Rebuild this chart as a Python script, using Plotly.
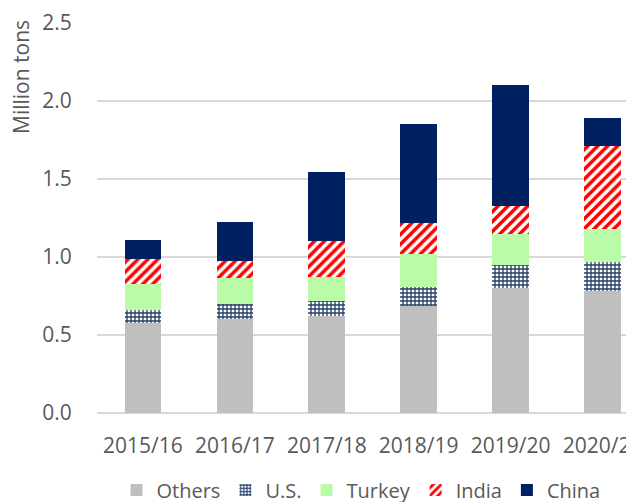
import plotly.graph_objects as go

seasons = ["2015/16", "2016/17", "2017/18", "2018/19", "2019/20", "2020/21"]
others = [0.58, 0.60, 0.62, 0.685, 0.80, 0.78]
us = [0.08, 0.10, 0.10, 0.125, 0.15, 0.185]
turkey = [0.165, 0.165, 0.155, 0.21, 0.20, 0.215]
india = [0.16, 0.11, 0.225, 0.20, 0.175, 0.53]
china = [0.125, 0.25, 0.445, 0.63, 0.775, 0.18]
y_ticks = [0.0, 0.5, 1.0, 1.5, 2.0, 2.5]
y_tick_text = ["0.0", "0.5", "1.0", "1.5", "2.0", "2.5"]

FONT = "Open Sans"
TXT = "#595959"
FS = 21

# page has an 8px body margin; figure is sized to fill the visible window
W, H = 626, 494
L, T, B = 89, 15, 89
PH = H - T - B  # plot height
PW = W - L      # plot width

fig = go.Figure()
fig.add_trace(go.Bar(name="Others", x=seasons, y=others,
                     marker=dict(color="#BFBFBF", line=dict(width=0))))
fig.add_trace(go.Bar(name="U.S.", x=seasons, y=us,
                     marker=dict(color="#FFFFFF", line=dict(width=0),
                                 pattern=dict(shape="+", fgcolor="#243F66", bgcolor="#FFFFFF",
                                              fillmode="replace", size=4, solidity=0.55))))
fig.add_trace(go.Bar(name="Turkey", x=seasons, y=turkey,
                     marker=dict(color="#B9FBA6", line=dict(width=0))))
fig.add_trace(go.Bar(name="India", x=seasons, y=india,
                     marker=dict(color="#FFFFFF", line=dict(width=0),
                                 pattern=dict(shape="/", fgcolor="#FF0000", bgcolor="#FFFFFF",
                                              fillmode="replace", size=7, solidity=0.5))))
fig.add_trace(go.Bar(name="China", x=seasons, y=china,
                     marker=dict(color="#002060", line=dict(width=0))))

fig.update_layout(
    barmode="stack",
    bargap=0.6,
    width=W, height=H,
    margin=dict(l=L, r=0, t=T, b=B, autoexpand=False),
    paper_bgcolor="white", plot_bgcolor="white",
    font=dict(family=FONT, size=FS, color=TXT),
    showlegend=True,
    legend=dict(orientation="h", x=(353 - L) / PW, xanchor="center",
                y=-(482 - (T + PH)) / PH, yanchor="middle",
                font=dict(family=FONT, size=20, color=TXT),
                itemwidth=30, traceorder="normal"),
    annotations=[dict(text="Million tons", x=(13 - L) / PW, y=(T + PH - 69) / PH,
                      xref="paper", yref="paper", xanchor="center", yanchor="middle",
                      showarrow=False, textangle=-90,
                      font=dict(family=FONT, size=FS, color=TXT))],
)
fig.update_xaxes(range=[-0.5, 5.342], showline=False,
                 ticks="outside", ticklen=14, tickcolor="rgba(0,0,0,0)",
                 tickfont=dict(family=FONT, size=FS, color=TXT), showgrid=False)
fig.update_yaxes(range=[0, 2.5], tickvals=y_ticks, ticktext=y_tick_text,
                 showgrid=True, gridcolor="#D9D9D9", gridwidth=1.5,
                 zeroline=True, zerolinecolor="#D9D9D9", zerolinewidth=1.5,
                 ticks="outside", ticklen=20, tickcolor="rgba(0,0,0,0)",
                 tickfont=dict(family=FONT, size=FS, color=TXT))

fig.write_html("out.html")
